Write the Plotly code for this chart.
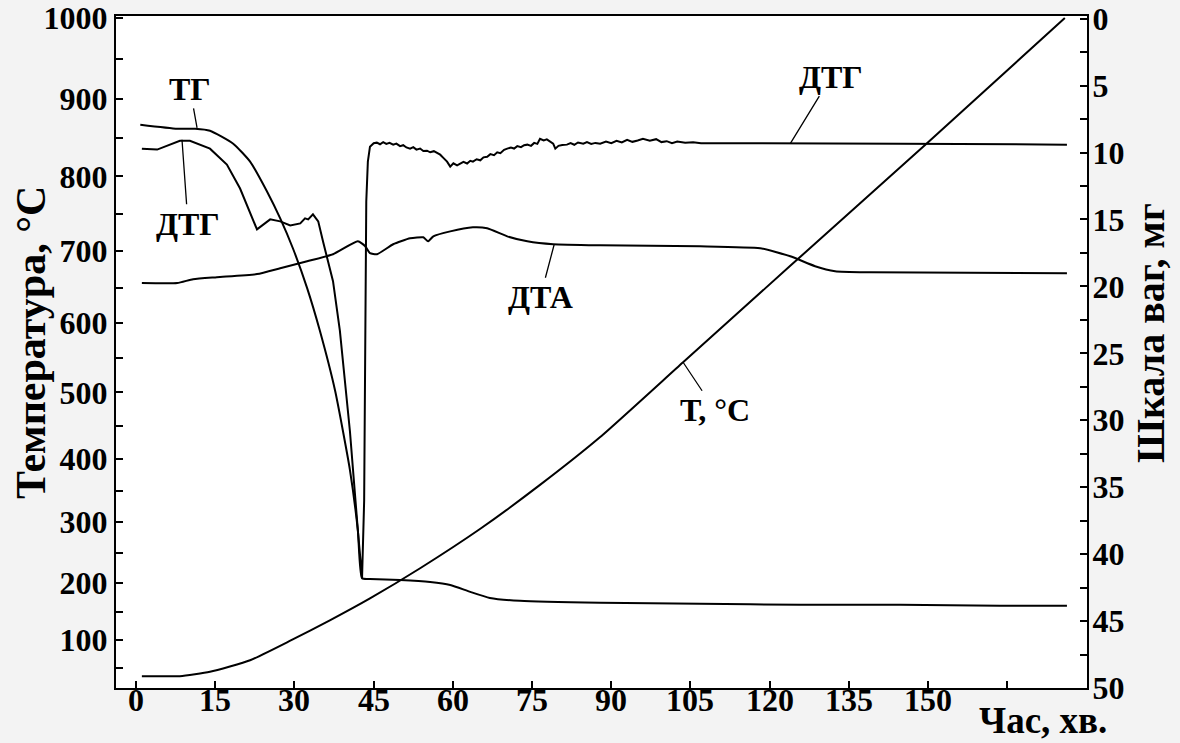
import plotly.graph_objects as go

# Recorder temperature scale is non-linear: chart units = T + K*T^2
SCALE_K = 2.68e-4


def t_scale(values):
    return [v + SCALE_K * v * v for v in values]


# --- T, °C (heating curve) ---
time_T = [1.1, 8.3, 14.0, 21.6, 29.4, 36.7, 44.3, 53.8, 65.2, 76.5, 87.9, 103.6, 123.9, 149.8, 175.9]
temp_T = [35, 35, 43, 64, 100, 135, 173, 224, 289, 359, 433, 544, 680, 843, 1000]

# --- ТГ (mass scale, mg) ---
time_TG = [0.8, 7.8, 11.2, 14.0, 18.4, 21.6, 24.8, 27.3, 29.7, 32.4, 34.8, 37.7, 40.5,
           42.0, 42.8, 44.3, 50.0, 55.7, 59.5, 63.3, 67.0, 72.7, 87.9, 106.8, 125.8,
           144.7, 163.6, 176.3]
mass_TG = [7.92, 8.22, 8.22, 8.37, 9.34, 10.68, 12.91, 14.92, 17.15, 20.13, 23.3, 27.8, 33.7,
           38.2, 41.8, 41.85, 41.93, 42.08, 42.3, 42.82, 43.27, 43.49, 43.64, 43.71, 43.79,
           43.79, 43.86, 43.86]

# --- ДТГ ---
time_DTG = [1.1, 4.0, 8.3, 10.2, 14.0, 17.2, 19.7, 22.9, 25.4, 27.3, 29.2, 31.1, 32.0, 32.6,
            33.5, 34.5, 35.4, 37.3, 38.6, 40.5, 42.0, 42.8, 43.2, 43.4, 43.6, 43.9,
            44.3, 45.0, 45.6, 46.2, 46.8, 47.4, 48.0, 48.7, 49.3, 50.0, 50.6, 51.2, 51.9,
            52.5, 53.1, 53.8, 54.4, 55.1, 55.7, 56.4, 57.0, 57.6, 58.2, 58.9, 59.5, 60.1,
            60.8, 61.4, 62.0, 62.7, 63.3, 63.8, 64.5, 65.2, 65.8, 66.5, 67.1, 67.8, 68.4,
            69.0, 69.7, 70.3, 71.0, 71.6, 72.2, 72.9, 73.5, 74.1, 74.8, 75.4, 76.0, 76.5,
            77.2, 77.8, 78.4, 79.0, 79.4, 80.0, 80.7, 81.6, 82.3, 83.0, 83.7, 84.7, 85.4,
            86.2, 87.0, 87.9, 89.0, 90.0, 91.0, 92.0, 93.0, 94.0, 95.0, 96.0, 97.3, 98.5,
            99.5, 100.5, 101.5, 102.5, 104.0, 105.5, 107.0, 115.0, 125.8, 144.7, 176.3]
val_DTG = [9.71, 9.78, 9.12, 9.12, 9.71, 10.90, 12.69, 15.74, 14.99, 15.14, 15.44, 15.29, 14.92, 14.99,
           14.62, 15.14, 16.63, 19.61, 23.3, 30.8, 38.2, 41.8, 36.0, 24.8, 13.65, 10.68,
           9.56, 9.30, 9.26, 9.38, 9.22, 9.35, 9.28, 9.41, 9.33, 9.52, 9.45, 9.62, 9.71,
           9.60, 9.78, 9.70, 9.88, 9.86, 9.98, 9.90, 10.05, 10.16, 10.40, 10.68, 11.05, 10.80,
           10.95, 10.83, 10.70, 10.82, 10.62, 10.68, 10.50, 10.58, 10.36, 10.31, 10.12, 10.20, 9.98,
           10.05, 9.80, 9.71, 9.62, 9.70, 9.52, 9.60, 9.45, 9.41, 9.50, 9.28, 9.35, 8.97,
           9.10, 9.02, 9.20, 9.34, 9.71, 9.50, 9.44, 9.41, 9.30, 9.42, 9.25, 9.34, 9.22,
           9.36, 9.28, 9.34, 9.18, 9.30, 9.12, 9.25, 9.05, 9.20, 9.10, 8.98, 9.12, 9.00,
           9.22, 9.15, 9.30, 9.18, 9.26, 9.24, 9.30, 9.32, 9.34, 9.34, 9.41]

# --- ДТА ---
time_DTA = [1.1, 7.8, 10.8, 15.3, 22.9, 27.3, 32.4, 37.3, 42.0, 43.4, 44.3, 45.6, 48.7, 51.9,
            54.4, 55.3, 56.3, 59.5, 63.8, 66.5, 70.3, 74.1, 79.0, 87.9, 106.8, 118.2, 123.9,
            128.6, 132.4, 139.0, 176.3]
val_DTA = [19.75, 19.75, 19.46, 19.31, 19.08, 18.64, 18.12, 17.60, 16.63, 17.00, 17.52, 17.60, 16.85, 16.41,
           16.33, 16.63, 16.26, 15.89, 15.59, 15.66, 16.26, 16.63, 16.85, 16.93, 17.00, 17.15, 17.75,
           18.49, 18.86, 18.94, 19.01]

# axis ticks
x_ticks = [0, 15, 30, 45, 60, 75, 90, 105, 120, 135, 150, 165]
x_labels = ["0", "15", "30", "45", "60", "75", "90", "105", "120", "135", "150", ""]
temp_ticks = list(range(50, 1001, 50))
temp_labels = [str(v) if v % 100 == 0 else "" for v in temp_ticks]
mass_ticks = [i * 2.5 for i in range(21)]
mass_labels = [str(int(v)) if v % 5 == 0 else "" for v in mass_ticks]

FONT = "Liberation Serif"
smooth = dict(color="black", width=2, shape="spline", smoothing=0.5)

fig = go.Figure()
fig.add_trace(go.Scatter(x=time_T, y=t_scale(temp_T), mode="lines", line=smooth, yaxis="y", name="T"))
fig.add_trace(go.Scatter(x=time_TG, y=mass_TG, mode="lines", line=smooth, yaxis="y2", name="ТГ"))
fig.add_trace(go.Scatter(x=time_DTG, y=val_DTG, mode="lines", line=dict(color="black", width=2),
                         yaxis="y2", name="ДТГ"))
fig.add_trace(go.Scatter(x=time_DTA, y=val_DTA, mode="lines", line=smooth, yaxis="y2", name="ДТА"))

tick_font = dict(family=FONT, size=32, color="black", weight="bold")
axis_common = dict(showline=True, linecolor="black", linewidth=2, ticks="inside", ticklen=7,
                   tickwidth=1.5, tickcolor="black", showgrid=False, zeroline=False,
                   tickfont=tick_font, automargin=False)

fig.update_layout(
    width=1180, height=743,
    margin=dict(l=116, r=93, t=16, b=55),
    paper_bgcolor="#f3f3f3", plot_bgcolor="white",
    showlegend=False,
    # time labels are set as text just under the axis line
    xaxis=dict(range=[-3.8, 180.1], tickvals=x_ticks, showticklabels=False, mirror=True,
               **axis_common),
    yaxis=dict(range=[13.1, 1271.9], tickvals=t_scale(temp_ticks), ticktext=temp_labels,
               **axis_common),
    yaxis2=dict(range=[50, -0.2], tickvals=mass_ticks, ticktext=mass_labels, overlaying="y",
                side="right", ticklabelstandoff=-3, **axis_common),
)

for tv, tl in zip(x_ticks, x_labels):
    if tl:
        fig.add_annotation(x=tv, xref="x", y=0, yref="paper", yshift=-12, text=tl,
                           xanchor="center", yanchor="middle", showarrow=False, font=tick_font)

label_font = dict(family=FONT, size=32, color="black", weight="bold")
arrow = dict(showarrow=True, arrowhead=0, arrowwidth=1.3, arrowcolor="black", font=label_font)
fig.add_annotation(x=11.55, y=8.15, yref="y2", text="ТГ", ax=-7, ay=-39, **arrow)
fig.add_annotation(x=8.7, y=9.04, yref="y2", text="ДТГ", ax=6, ay=84, **arrow)
fig.add_annotation(x=123.9, y=9.34, yref="y2", text="ДТГ", ax=41, ay=-67, **arrow)
fig.add_annotation(x=79.2, y=16.85, yref="y2", text="ДТА", ax=-14, ay=53, **arrow)
fig.add_annotation(x=103.6, y=t_scale([544])[0], yref="y", text="Т, °С", ax=32, ay=48, **arrow)

# axis titles
fig.add_annotation(xref="paper", yref="paper", x=0, y=0.5, xshift=-85, yshift=9,
                   xanchor="center", yanchor="middle", text="Температура, °С",
                   textangle=-90, showarrow=False,
                   font=dict(family=FONT, size=42, color="black", weight="bold"))
fig.add_annotation(xref="paper", yref="paper", x=1, y=0.5, xshift=63, yshift=19,
                   xanchor="center", yanchor="middle", text="Шкала ваг, мг",
                   textangle=-90, showarrow=False,
                   font=dict(family=FONT, size=40, color="black", weight="bold"))
fig.add_annotation(xref="paper", yref="paper", x=1, y=0, xshift=-44, yshift=-32,
                   xanchor="center", yanchor="middle", text="Час, хв.", showarrow=False,
                   font=dict(family=FONT, size=37, color="black", weight="bold"))

fig.write_html("out.html")
